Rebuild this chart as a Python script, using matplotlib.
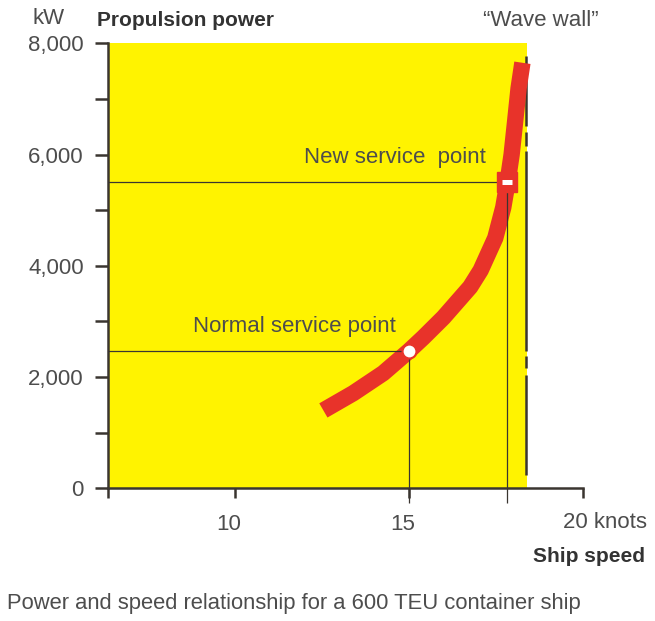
import numpy as np
import matplotlib
matplotlib.use('Agg')
import matplotlib.pyplot as plt
import matplotlib.transforms as mtransforms

plt.rcParams['font.family'] = ['Liberation Sans', 'DejaVu Sans']

# Curve (knots, kW)
speed = [12.53, 13.39, 14.25, 14.99, 15.40, 15.98, 16.75, 17.05, 17.47, 17.70, 17.82, 17.94, 18.04, 18.14, 18.25]
power = [1400, 1710, 2070, 2470, 2710, 3070, 3620, 3920, 4500, 5050, 5490, 6000, 6590, 7190, 7650]

normal_point = (15.0, 2475)
new_point = (17.82, 5500)

# "Wave wall" line with its small breaks
wall_speed = 18.34
wall_top = [7770, 6400, 6060, 2370, 2040]
wall_bottom = [6510, 6150, 2460, 2160, 240]

x_ticks = [6.34, 10, 15, 20]
x_labels = ['', '10', '15', '']
y_major = [0, 2000, 4000, 6000, 8000]
y_labels = ['0', '2,000', '4,000', '6,000', '8,000']
y_minor = [1000, 3000, 5000, 7000]

yellow = '#fff300'
red = '#e8332a'
dark = '#3a3530'
grey = '#4d4d4d'

W, H = 655, 621
fig = plt.figure(figsize=(W / 100, H / 100), dpi=100)
ax = fig.add_axes([108 / W, 1 - 488.3 / H, (583.3 - 108) / W, (488.3 - 43.3) / H])

def px(x, y):
    return x / W, 1 - y / H

ax.set_xlim(6.34, 20)
ax.set_ylim(0, 8000)
ax.set_facecolor('none')
ax.axvspan(6.34, 18.38, color=yellow, zorder=0, lw=0)

for s in ['top', 'right']:
    ax.spines[s].set_visible(False)
for s in ['left', 'bottom']:
    ax.spines[s].set_linewidth(1.8)
    ax.spines[s].set_color(dark)
    ax.spines[s].set_zorder(6)

ax.set_xticks(x_ticks)
ax.set_xticklabels(x_labels)
ax.set_yticks(y_major)
ax.set_yticklabels(y_labels)
ax.set_yticks(y_minor, minor=True)
ax.tick_params(axis='y', which='both', direction='out', length=9.4, width=1.8,
               color=dark, labelsize=16, labelcolor=grey, pad=8)
ax.tick_params(axis='x', which='both', direction='out', length=7.2, width=1.8,
               color=dark, labelsize=16, labelcolor=grey, pad=11)
shift = mtransforms.ScaledTranslation(-0.07, 0, fig.dpi_scale_trans)
for lab in ax.get_xticklabels():
    lab.set_transform(lab.get_transform() + shift)

# wave wall
ax.vlines([wall_speed] * len(wall_top), wall_bottom, wall_top, color=dark, lw=1.8, zorder=2)

# power curve
ax.plot(speed, power, color=red, lw=11.8, solid_capstyle='butt',
        solid_joinstyle='round', zorder=3)

# reference lines to the service points
for sx, sy in [normal_point, new_point]:
    ax.hlines(sy, 6.34, sx, color=dark, lw=0.9, zorder=4)
    ax.vlines(sx, -270, sy, color=dark, lw=0.9, zorder=4, clip_on=False)

ax.plot(*normal_point, 'o', ms=10, mfc='white', mec=red, mew=1.5, zorder=5)
ax.plot(*new_point, 's', ms=14, color=red, zorder=5)
ax.plot(*new_point, '_', ms=7.5, mew=3.6, color='white', zorder=6)

ax.text(17.2, 5950, 'New service  point', fontsize=16, color=grey, ha='right', va='center')
ax.text(14.6, 2900, 'Normal service point', fontsize=16, color=grey, ha='right', va='center')

ax.annotate('20 knots', xy=(20, 0), xycoords=('data', 'axes fraction'),
            xytext=(-20, -34), textcoords='offset pixels',
            fontsize=16, color=grey, ha='left', va='center')

fig.text(*px(32, 18), 'kW', fontsize=16, color=grey, ha='left', va='center')
fig.text(*px(97, 20), 'Propulsion power', fontsize=15, fontweight='bold', color='#333333',
         ha='left', va='center')
fig.text(*px(483, 20), '\u201cWave wall\u201d', fontsize=16, color=grey, ha='left', va='center')
fig.text(*px(645, 557), 'Ship speed', fontsize=15, fontweight='bold', color='#333333',
         ha='right', va='center')
fig.text(*px(7, 603), 'Power and speed relationship for a 600 TEU container ship',
         fontsize=15.8, color=grey, ha='left', va='center')

fig.savefig('out.png', dpi=100)
